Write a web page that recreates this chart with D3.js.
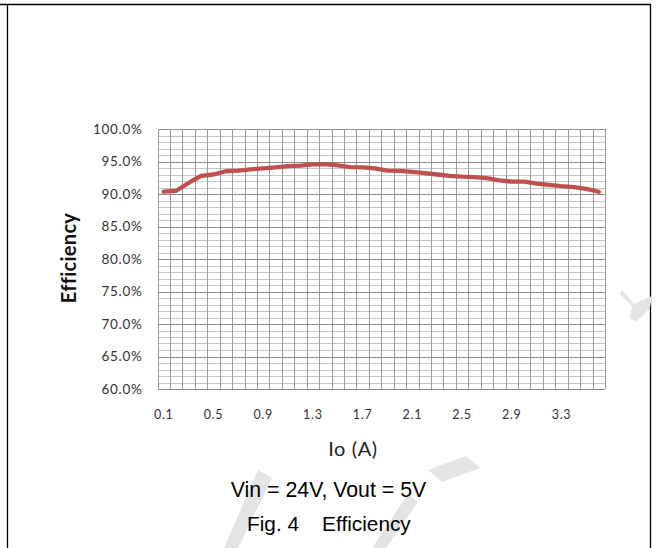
<!DOCTYPE html>
<html>
<head>
<meta charset="utf-8">
<script src="https://cdn.jsdelivr.net/npm/d3@7"></script>
<style>
  body { margin: 0; background: #fff; }
  svg { display: block; }
</style>
</head>
<body>
<div id="chart"></div>
<script>
// Efficiency vs output current, Vin = 24V, Vout = 5V
const currents = ['0.1', '0.2', '0.3', '0.4', '0.5', '0.6', '0.7', '0.8', '0.9', '1.0',
  '1.1', '1.2', '1.3', '1.4', '1.5', '1.6', '1.7', '1.8', '1.9', '2.0',
  '2.1', '2.2', '2.3', '2.4', '2.5', '2.6', '2.7', '2.8', '2.9', '3.0',
  '3.1', '3.2', '3.3', '3.4', '3.5', '3.6'];
const efficiency = [90.35, 90.5, 91.7, 92.8, 93.0, 93.5, 93.6, 93.8, 93.95, 94.1,
  94.3, 94.35, 94.55, 94.6, 94.4, 94.15, 94.1, 93.95, 93.6, 93.55,
  93.4, 93.2, 93.0, 92.8, 92.67, 92.6, 92.45, 92.1, 91.9, 91.9,
  91.6, 91.4, 91.2, 91.05, 90.8, 90.35];
const xTickLabels = ['0.1', '0.5', '0.9', '1.3', '1.7', '2.1', '2.5', '2.9', '3.3'];
const yMajorTicks = [60, 65, 70, 75, 80, 85, 90, 95, 100];

const width = 656;
const height = 548;
const svg = d3.select('#chart').append('svg')
    .attr('width', width)
    .attr('height', height);

// page frame
svg.append('line').attr('x1', 0).attr('x2', 651).attr('y1', 4.5).attr('y2', 4.5)
    .attr('stroke', '#000').attr('stroke-width', 1.3);
svg.append('line').attr('x1', 7.5).attr('x2', 7.5).attr('y1', 4).attr('y2', height)
    .attr('stroke', '#000').attr('stroke-width', 1.3);
svg.append('line').attr('x1', 650.5).attr('x2', 650.5).attr('y1', 4).attr('y2', height)
    .attr('stroke', '#000').attr('stroke-width', 1.3);

// faint watermark strokes
const wm = svg.append('g').attr('fill', '#e4e4e4');
wm.append('path').attr('d', 'M224,548 L238,548 L272,478 L258,470 Z');
wm.append('path').attr('d', 'M372,548 L386,548 L418,502 L408,494 Z');
wm.append('path').attr('d', 'M428,470 L466,456 L480,468 L442,482 Z');
wm.append('path').attr('d', 'M622,290 L634,304 L652,296 L650,308 L636,322 L630,318 L632,306 L620,294 Z');

const x = d3.scaleBand()
    .domain(currents)
    .range([157.5, 605])
    .paddingInner(0)
    .paddingOuter(0);
const y = d3.scaleLinear()
    .domain([60, 100])
    .range([389, 129]);

// gridlines
const grid = svg.append('g').attr('shape-rendering', 'crispEdges');
grid.selectAll('line.minor')
  .data(d3.range(60, 101).filter(v => v % 5 !== 0))
  .join('line')
    .attr('class', 'minor')
    .attr('x1', x.range()[0]).attr('x2', x.range()[1])
    .attr('y1', d => Math.round(y(d)) + 0.5).attr('y2', d => Math.round(y(d)) + 0.5)
    .attr('stroke', '#c6c6c6');
const vEdges = currents.map(c => x(c)).concat([x.range()[1]]);
grid.selectAll('line.v')
  .data(vEdges)
  .join('line')
    .attr('class', 'v')
    .attr('x1', d => Math.round(d) + 0.5).attr('x2', d => Math.round(d) + 0.5)
    .attr('y1', y(100)).attr('y2', y(60))
    .attr('stroke', '#9a9a9a');
grid.selectAll('line.major')
  .data(yMajorTicks)
  .join('line')
    .attr('class', 'major')
    .attr('x1', x.range()[0]).attr('x2', x.range()[1])
    .attr('y1', d => Math.round(y(d)) + 0.5).attr('y2', d => Math.round(y(d)) + 0.5)
    .attr('stroke', '#8c8c8c');

// axes
const yAxis = svg.append('g')
    .attr('transform', `translate(${x.range()[0]},0)`)
    .call(d3.axisLeft(y).tickValues(yMajorTicks).tickSize(0).tickPadding(15)
      .tickFormat(d => d3.format('.1%')(d / 100)));
yAxis.select('.domain').remove();
yAxis.selectAll('text')
    .attr('font-family', 'Lato, sans-serif')
    .attr('font-size', 13.5)
    .attr('letter-spacing', 0.7)
    .attr('fill', '#333');

const xAxis = svg.append('g')
    .attr('transform', `translate(0,${y(60)})`)
    .call(d3.axisBottom(x).tickValues(xTickLabels).tickSize(0).tickPadding(21));
xAxis.select('.domain').remove();
xAxis.selectAll('text')
    .attr('font-family', 'Lato, sans-serif')
    .attr('font-size', 12.5)
    .attr('letter-spacing', 0.7)
    .attr('fill', '#333');

// efficiency line
const line = d3.line()
    .x((d, i) => x(currents[i]) + x.bandwidth() / 2)
    .y(d => y(d));
svg.append('path')
    .datum(efficiency)
    .attr('d', line)
    .attr('fill', 'none')
    .attr('stroke', '#c0504d')
    .attr('stroke-width', 4.3)
    .attr('stroke-linejoin', 'round')
    .attr('stroke-linecap', 'round');

// axis titles
svg.append('text')
    .attr('transform', 'translate(76,258) rotate(-90)')
    .attr('text-anchor', 'middle')
    .attr('font-family', 'Lato, sans-serif')
    .attr('font-weight', 'bold')
    .attr('font-size', 20)
    .attr('letter-spacing', 0.3)
    .attr('fill', '#111')
    .text('Efficiency');
svg.append('text')
    .attr('x', 353)
    .attr('y', 456)
    .attr('text-anchor', 'middle')
    .attr('font-family', 'Lato, sans-serif')
    .attr('font-size', 20)
    .attr('letter-spacing', 0.6)
    .attr('fill', '#222')
    .text('Io (A)');

// captions
svg.append('text')
    .attr('x', 328.5)
    .attr('y', 497)
    .attr('text-anchor', 'middle')
    .attr('font-family', '"Liberation Sans", Arial, sans-serif')
    .attr('font-size', 21.3)
    .attr('fill', '#000')
    .text('Vin = 24V, Vout = 5V');
svg.append('text')
    .attr('x', 247)
    .attr('y', 531)
    .attr('font-family', '"Liberation Sans", Arial, sans-serif')
    .attr('font-size', 20.8)
    .attr('fill', '#000')
    .attr('xml:space', 'preserve')
    .style('white-space', 'pre')
    .text('Fig. 4    Efficiency');
</script>
</body>
</html>
